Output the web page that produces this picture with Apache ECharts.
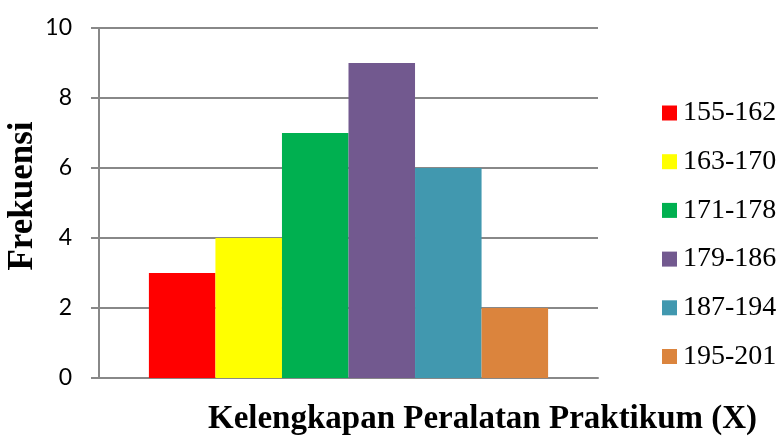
<!DOCTYPE html>
<html>
<head>
<meta charset="utf-8">
<script src="https://cdn.jsdelivr.net/npm/echarts@6/dist/echarts.min.js"></script>
<style>
  html, body { margin: 0; padding: 0; background: #fff; }
  #chart { width: 776px; height: 438px; }
</style>
</head>
<body>
<div id="chart"></div>
<script>
  // kelas interval dan frekuensi
  const classes = ['155-162', '163-170', '171-178', '179-186', '187-194', '195-201']
  const freq = [3, 4, 7, 9, 6, 2]
  const colors = ['#FF0000', '#FFFF00', '#00B050', '#72598F', '#4198AF', '#DB843D']
  const yTicks = [0, 2, 4, 6, 8, 10]

  const chart = echarts.init(document.getElementById('chart'))

  const series = classes.map((name, i) => ({
    name: name,
    type: 'bar',
    data: [freq[i]],
    barGap: '0%',
    barCategoryGap: '20%',
    itemStyle: { color: colors[i] },
    emphasis: { disabled: true }
  }))

  chart.setOption({
    animation: false,
    grid: { left: 99, top: 28, right: 178, bottom: 60, containLabel: false, outerBoundsMode: 'none' },
    legend: {
      orient: 'vertical',
      left: 657,
      top: 94,
      itemWidth: 15,
      itemHeight: 15,
      itemGap: 20.7,
      icon: 'rect',
      textStyle: { fontFamily: 'Liberation Serif', fontSize: 28, lineHeight: 26, color: '#000', padding: [0, 0, 0, 1] },
      data: classes
    },
    xAxis: {
      type: 'category',
      data: [''],
      name: 'Kelengkapan Peralatan Praktikum (X)',
      nameLocation: 'middle',
      nameGap: 25,
      nameTextStyle: { fontFamily: 'Liberation Serif', fontWeight: 'bold', fontSize: 33, color: '#000', padding: [0, 0, 0, 268] },
      axisLine: { lineStyle: { color: '#888', width: 2 } },
      axisTick: { show: false },
      axisLabel: { show: false }
    },
    yAxis: {
      type: 'value',
      min: yTicks[0],
      max: yTicks[yTicks.length - 1],
      interval: 2,
      name: 'Frekuensi',
      nameLocation: 'middle',
      nameGap: 59,
      nameMoveOverlap: false,
      nameTextStyle: { fontFamily: 'Liberation Serif', fontWeight: 'bold', fontSize: 35, color: '#000', padding: [0, 0, 0, 14] },
      axisLine: { show: true, lineStyle: { color: '#888', width: 2 } },
      axisTick: { show: true, length: 8, lineStyle: { color: '#888', width: 2 } },
      axisLabel: { margin: 27, fontFamily: 'Lato', fontSize: 23, color: '#000' },
      splitLine: { lineStyle: { color: '#888', width: 2 } }
    },
    series: series
  })
</script>
</body>
</html>
